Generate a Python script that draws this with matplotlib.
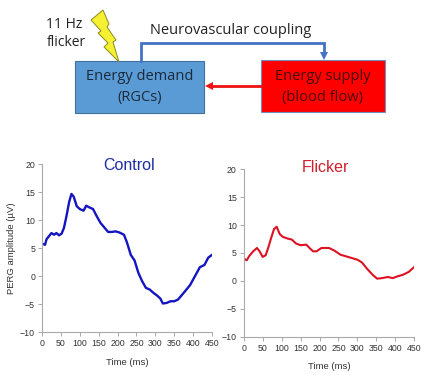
import matplotlib
matplotlib.use('Agg')
import matplotlib.pyplot as plt
from matplotlib.patches import Rectangle, Polygon

W, H = 433, 376

# Curvas (tempo em ms, amplitude em uV)
tempo_control = [0, 8, 12, 18, 25, 32, 38, 45, 52, 58, 65, 72, 78, 84, 92, 100, 110, 117, 125, 135, 145, 155, 165, 175, 185, 195, 205, 217, 225, 235, 245, 255, 265, 275, 285, 295, 305, 313, 320, 330, 340, 350, 360, 370, 380, 392, 405, 418, 430, 440, 450]
amp_control = [5.8, 5.6, 6.6, 7.1, 7.7, 7.4, 7.7, 7.3, 7.6, 8.6, 10.8, 13.3, 14.7, 14.2, 12.5, 12.0, 11.7, 12.6, 12.3, 12.0, 10.7, 9.5, 8.7, 7.9, 7.9, 8.0, 7.8, 7.4, 6.0, 3.8, 2.8, 0.6, -0.9, -2.1, -2.4, -3.0, -3.5, -4.0, -4.9, -4.8, -4.5, -4.5, -4.2, -3.4, -2.6, -1.6, 0.0, 1.6, 2.0, 3.3, 3.8]

tempo_flicker = [0, 8, 15, 25, 35, 42, 50, 58, 65, 72, 80, 87, 95, 103, 115, 127, 138, 150, 165, 175, 183, 192, 205, 225, 240, 255, 270, 285, 300, 312, 325, 340, 352, 365, 380, 393, 405, 420, 435, 450]
amp_flicker = [4.0, 3.7, 4.5, 5.3, 5.9, 5.3, 4.3, 4.6, 6.0, 7.6, 9.3, 9.7, 8.4, 7.9, 7.6, 7.4, 6.7, 6.4, 6.5, 5.8, 5.3, 5.3, 5.9, 5.9, 5.4, 4.7, 4.4, 4.1, 3.8, 3.3, 2.2, 1.1, 0.4, 0.5, 0.7, 0.5, 0.8, 1.1, 1.6, 2.5]

ticks_x = [0, 50, 100, 150, 200, 250, 300, 350, 400, 450]
ticks_y = [-10, -5, 0, 5, 10, 15, 20]

plt.rcParams['font.family'] = ['Liberation Sans', 'DejaVu Sans']

fig = plt.figure(figsize=(W / 100, H / 100), dpi=100)

# Camada em pixels para o diagrama
bg = fig.add_axes([0, 0, 1, 1])
bg.set_xlim(0, W)
bg.set_ylim(H, 0)
bg.axis('off')

bg.add_patch(Rectangle((75, 61), 129, 52, fc='#5b9bd5', ec='#41719c', lw=0.8))
bg.add_patch(Rectangle((261, 60), 124, 52, fc='#fe0000', ec='#6f8fc0', lw=0.8))
bg.add_patch(Polygon([(103, 10), (91, 20), (101, 31), (98, 33), (108, 43), (104, 47), (119, 62), (113, 42), (116, 40), (107, 27), (109, 24)],
                     fc='#f5f032', ec='#8a8a20', lw=0.7))

fonte = ['Open Sans', 'DejaVu Sans']
bg.text(64, 24, '11 Hz', fontsize=10, family=fonte, ha='center', va='center', color='#222222')
bg.text(66, 43, 'flicker', fontsize=10, family=fonte, ha='center', va='center', color='#222222')
bg.text(231, 31, 'Neurovascular coupling', fontsize=10.5, family=fonte, ha='center', va='center', color='#222222')
bg.text(140, 77, 'Energy demand', fontsize=10.5, family=fonte, ha='center', va='center', color='#1a2a3a')
bg.text(140, 97, '(RGCs)', fontsize=10.5, family=fonte, ha='center', va='center', color='#1a2a3a')
bg.text(323, 77, 'Energy supply', fontsize=10.5, family=fonte, ha='center', va='center', color='#4a0c0c')
bg.text(323, 97, '(blood flow)', fontsize=10.5, family=fonte, ha='center', va='center', color='#4a0c0c')

# Setas
bg.plot([141, 141, 324, 324], [61, 43, 43, 52], color='#4472c4', lw=2, solid_joinstyle='miter')
bg.add_patch(Polygon([(320, 52), (328, 52), (324, 60)], fc='#4472c4', ec='none'))
bg.plot([261, 212], [86, 86], color='#ee1111', lw=2)
bg.add_patch(Polygon([(213, 82), (213, 90), (205, 86)], fc='#ee1111', ec='none'))


def criar_eixo(x0, x1, y_top, y_bot, tempo, amp, cor, titulo, cor_titulo, titulo_x, titulo_y, lw):
    ax = fig.add_axes([x0 / W, 1 - y_bot / H, (x1 - x0) / W, (y_bot - y_top) / H])
    ax.patch.set_alpha(0)
    ax.plot(tempo, amp, color=cor, lw=lw)
    ax.set_xlim(0, 450)
    ax.set_ylim(-10, 20)
    ax.set_xticks(ticks_x)
    ax.set_yticks(ticks_y)
    ax.tick_params(labelsize=6.3, length=3, width=0.7, color='#aaaaaa', labelcolor='#333333', pad=2)
    for lado in ['top', 'right']:
        ax.spines[lado].set_visible(False)
    for lado in ['left', 'bottom']:
        ax.spines[lado].set_color('#aaaaaa')
        ax.spines[lado].set_linewidth(0.8)
    ax.set_xlabel('Time (ms)', fontsize=6.8, color='#333333', labelpad=7)
    bg.text(titulo_x, titulo_y, titulo, fontsize=11.5, color=cor_titulo, ha='center', va='center')
    return ax


ax1 = criar_eixo(42, 212, 164.3, 332, tempo_control, amp_control, '#1414c0', 'Control', '#1e2ea0', 129, 165, 1.7)
ax1.set_ylabel('PERG amplitude (µV)', fontsize=6.8, color='#333333', labelpad=3)
criar_eixo(243.7, 414.3, 169.3, 336.7, tempo_flicker, amp_flicker, '#dd1122', 'Flicker', '#d0202c', 325, 168, 1.5)

fig.savefig('out.png', dpi=100)
